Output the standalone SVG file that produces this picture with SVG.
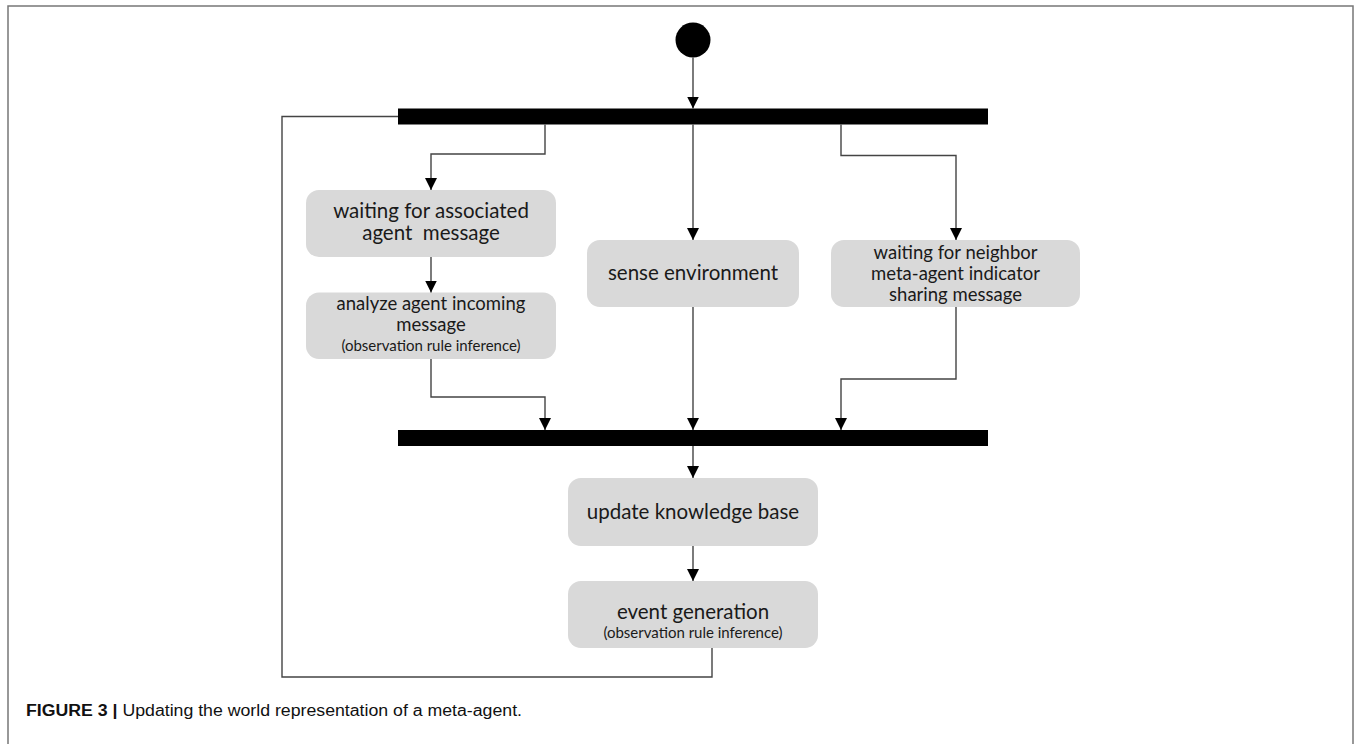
<svg xmlns="http://www.w3.org/2000/svg" width="1354" height="744" viewBox="0 0 1354 744">
  <style>
    .frame { fill: none; stroke: #777; stroke-width: 1.5; }
    .bar { fill: #000; }
    .box { fill: #d9d9d9; }
    .lbl { font-family: Lato, "Open Sans", "Liberation Sans", sans-serif; font-size: 20.5px; fill: #1a1a1a; text-anchor: middle; white-space: pre; }
    .tight { font-size: 18.5px; }
    .sub { font-size: 15px; }
    .edge { fill: none; stroke: #444; stroke-width: 1.4; }
    .cap { font-family: "Liberation Sans", Arial, sans-serif; font-size: 16px; fill: #111; }
  </style>
  <defs>
    <marker id="arrow" markerUnits="userSpaceOnUse" markerWidth="12" markerHeight="12" refX="12" refY="6" orient="auto">
      <path d="M0,0 L12,6 L0,12 z" fill="#000"/>
    </marker>
  </defs>

  <rect width="1354" height="744" fill="#fff"/>
  <!-- figure frame (open at the bottom) -->
  <path class="frame" d="M8,744 V6 H1353 V744"/>

  <!-- initial node -->
  <g id="start">
    <circle cx="693" cy="40" r="17.5" fill="#000"/>
  </g>

  <!-- fork and join bars -->
  <g id="fork">
    <rect class="bar" x="398" y="108.5" width="590" height="16"/>
  </g>
  <g id="join">
    <rect class="bar" x="398" y="430" width="590" height="16"/>
  </g>

  <g id="wait-associated">
    <rect class="box" x="306" y="190" width="250" height="67" rx="13"/>
    <text class="lbl" x="431" y="218">waiting for associated</text>
    <text class="lbl" x="431" y="240">agent  message</text>
  </g>

  <g id="analyze-message">
    <rect class="box" x="306" y="292.5" width="250" height="66.5" rx="13"/>
    <text class="lbl tight" x="431" y="310">analyze agent incoming</text>
    <text class="lbl tight" x="431" y="331">message</text>
    <text class="lbl sub" x="431" y="351">(observation rule inference)</text>
  </g>

  <g id="sense-environment">
    <rect class="box" x="587" y="240" width="212" height="67" rx="13"/>
    <text class="lbl" x="693" y="280">sense environment</text>
  </g>

  <g id="wait-neighbor">
    <rect class="box" x="831" y="240" width="249" height="67" rx="13"/>
    <text class="lbl tight" x="955.5" y="259">waiting for neighbor</text>
    <text class="lbl tight" x="955.5" y="280">meta-agent indicator</text>
    <text class="lbl tight" x="955.5" y="301">sharing message</text>
  </g>

  <g id="update-kb">
    <rect class="box" x="568" y="478" width="250" height="68" rx="13"/>
    <text class="lbl" x="693" y="519">update knowledge base</text>
  </g>

  <g id="event-generation">
    <rect class="box" x="568" y="581" width="250" height="67" rx="13"/>
    <text class="lbl" x="693" y="619">event generation</text>
    <text class="lbl sub" x="693" y="638">(observation rule inference)</text>
  </g>

  <!-- control flow -->
  <g id="connectors">
    <path class="edge" d="M693,57.5 V108.5" marker-end="url(#arrow)"/>
    <path class="edge" d="M545,124.5 V154 H431 V190" marker-end="url(#arrow)"/>
    <path class="edge" d="M693,124.5 V240" marker-end="url(#arrow)"/>
    <path class="edge" d="M841,124.5 V155.5 H956 V240" marker-end="url(#arrow)"/>
    <path class="edge" d="M431,257 V292.5" marker-end="url(#arrow)"/>
    <path class="edge" d="M431,359 V397 H545 V430" marker-end="url(#arrow)"/>
    <path class="edge" d="M693,307 V430" marker-end="url(#arrow)"/>
    <path class="edge" d="M956,307 V379 H841 V430" marker-end="url(#arrow)"/>
    <path class="edge" d="M693,446 V478" marker-end="url(#arrow)"/>
    <path class="edge" d="M693,546 V581" marker-end="url(#arrow)"/>
    <path class="edge" d="M712,648 V677 H282 V116.5 H398"/>
  </g>

  <text class="cap" x="26" y="716" textLength="496" lengthAdjust="spacingAndGlyphs"><tspan font-weight="bold">FIGURE 3 | </tspan>Updating the world representation of a meta-agent.</text>
</svg>
